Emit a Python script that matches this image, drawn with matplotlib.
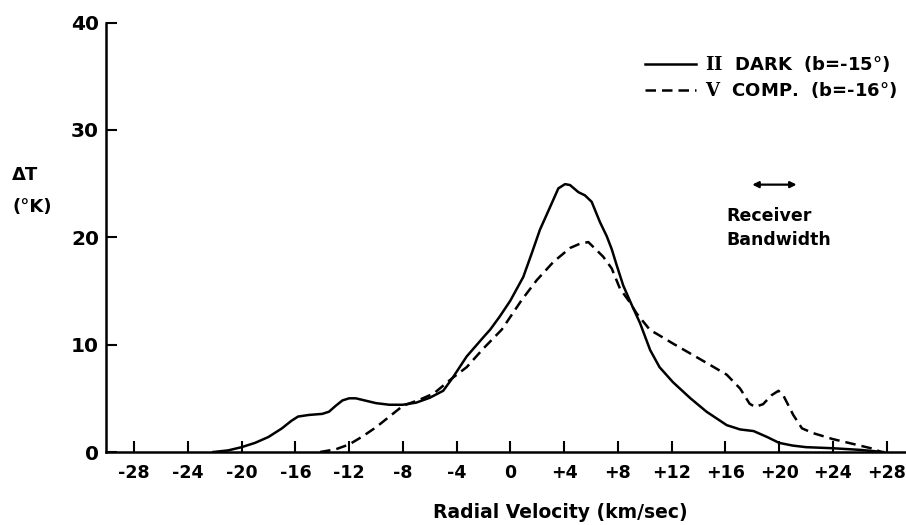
import numpy as np
import matplotlib
matplotlib.use("Agg")
import matplotlib.pyplot as plt

plt.rcParams["font.family"] = "DejaVu Sans"
plt.rcParams["font.weight"] = "bold"
plt.rcParams["axes.labelweight"] = "bold"
plt.rcParams["mathtext.fontset"] = "dejavuserif"

# Profile II (dark cloud, b=-15 deg)
dark_v = [-22.1, -21, -20, -19, -18, -17, -16.3, -15.8, -15, -14, -13.5, -13, -12.5,
          -12, -11.5, -11, -10, -9, -8, -7, -6, -5, -4.3, -3.25, -2, -1.5, -0.8, 0, 0.96,
          1.59, 2.2, 2.95, 3.57, 4.07, 4.44, 5.06, 5.55, 6.05, 6.67, 7.17, 7.54, 7.91, 8.4,
          9.03, 9.65, 10.4, 11.1, 12.1, 13.4, 14.6, 16.1, 17.1, 18.1, 19.1, 20, 21, 22,
          24, 26, 27.75]
dark_t = [0, 0.15, 0.45, 0.85, 1.4, 2.2, 2.9, 3.3, 3.45, 3.55, 3.75, 4.3, 4.8,
          5.0, 5.0, 4.85, 4.55, 4.4, 4.4, 4.6, 5.05, 5.7, 6.9, 8.9, 10.7, 11.4, 12.6, 14.1, 16.3,
          18.5, 20.7, 22.8, 24.55, 24.95, 24.86, 24.2, 23.9, 23.3, 21.4, 20.1, 18.9, 17.4, 15.5,
          13.7, 12.0, 9.5, 7.9, 6.5, 5.0, 3.75, 2.5, 2.1, 1.95, 1.4, 0.85, 0.6, 0.45,
          0.35, 0.2, 0]

# Profile V (comparison, b=-16 deg)
comp_v = [-14.16, -13, -12, -11, -10, -9, -8, -6.7, -5.7, -4.3, -3.25, -2, -0.64,
          0.84, 1.96, 3.2, 4.44, 5.18, 5.8, 6.17, 6.9, 7.54, 8.16, 8.8, 9.4, 10.4, 10.9,
          12.1, 14.6, 16.1, 17.1, 17.8, 18.2, 18.8, 19.45, 19.95, 20.3, 21.05, 21.7, 22.55,
          24.0, 25.5, 27.0, 27.6]
comp_t = [0, 0.25, 0.7, 1.45, 2.3, 3.3, 4.3, 4.9, 5.45, 6.9, 7.9, 9.65, 11.4,
          14.15, 16.0, 17.7, 19.0, 19.4, 19.55, 19.1, 18.2, 17.1, 15.2, 14.1, 12.9, 11.35, 11.0,
          10.1, 8.3, 7.2, 5.9, 4.5, 4.2, 4.45, 5.3, 5.7, 5.3, 3.45, 2.2, 1.75,
          1.2, 0.75, 0.3, 0]

x_ticks = np.arange(-28, 29, 4)
x_labels = [str(v) if v <= 0 else "+" + str(v) for v in x_ticks]
y_ticks = [0, 10, 20, 30, 40]

labels = [r"$\mathbf{II}$  DARK  (b=-15°)", r"$\mathbf{V}$  COMP.  (b=-16°)"]

bandwidth = (18.0, 21.3)   # km/sec span of the receiver bandwidth arrow
bandwidth_level = 24.9

fig = plt.figure(figsize=(9.06, 5.25), dpi=100)
ax = fig.add_axes([106 / 906, 73 / 525, 800 / 906, 429.5 / 525])

ax.plot(dark_v, dark_t, color="black", lw=1.8, solid_joinstyle="round", label=labels[0])
ax.plot(comp_v, comp_t, color="black", lw=1.8, ls=(0, (4.2, 2.4)), label=labels[1])

ax.set_xlim(-30.09, 29.44)
ax.set_ylim(0, 40)
ax.set_xticks(x_ticks)
ax.set_xticklabels(x_labels, fontsize=12.5)
ax.set_yticks(y_ticks)
ax.set_yticklabels([str(v) for v in y_ticks], fontsize=14.5)
ax.tick_params(direction="in", length=8, width=1.5)
ax.tick_params(axis="x", pad=9)
ax.tick_params(axis="y", pad=5)
for s in ["top", "right"]:
    ax.spines[s].set_visible(False)
for s in ["left", "bottom"]:
    ax.spines[s].set_linewidth(1.8)

ax.set_xlabel("Radial Velocity (km/sec)", fontsize=13.5)
ax.xaxis.set_label_coords(0.5675, -0.119)

fig.text(12 / 906, 1 - 175 / 525, "ΔT", fontsize=13, va="center", ha="left")
fig.text(12 / 906, 1 - 207 / 525, "(°K)", fontsize=13, va="center", ha="left")

ax.legend(loc="upper left", bbox_to_anchor=(645 / 906, 1 - 54 / 525),
          bbox_transform=fig.transFigure, frameon=False, fontsize=13,
          handlelength=2.8, handletextpad=0.55, labelspacing=0.35,
          borderpad=0, borderaxespad=0)

ax.annotate("", xy=(bandwidth[1], bandwidth_level), xytext=(bandwidth[0], bandwidth_level),
            arrowprops=dict(arrowstyle="<|-|>", color="black", lw=1.6,
                            mutation_scale=9, shrinkA=0, shrinkB=0))
ax.text(16.05, 22.0, "Receiver", fontsize=12.5, ha="left", va="center")
ax.text(16.05, 19.7, "Bandwidth", fontsize=12.5, ha="left", va="center")

fig.savefig("out.png", dpi=100)
